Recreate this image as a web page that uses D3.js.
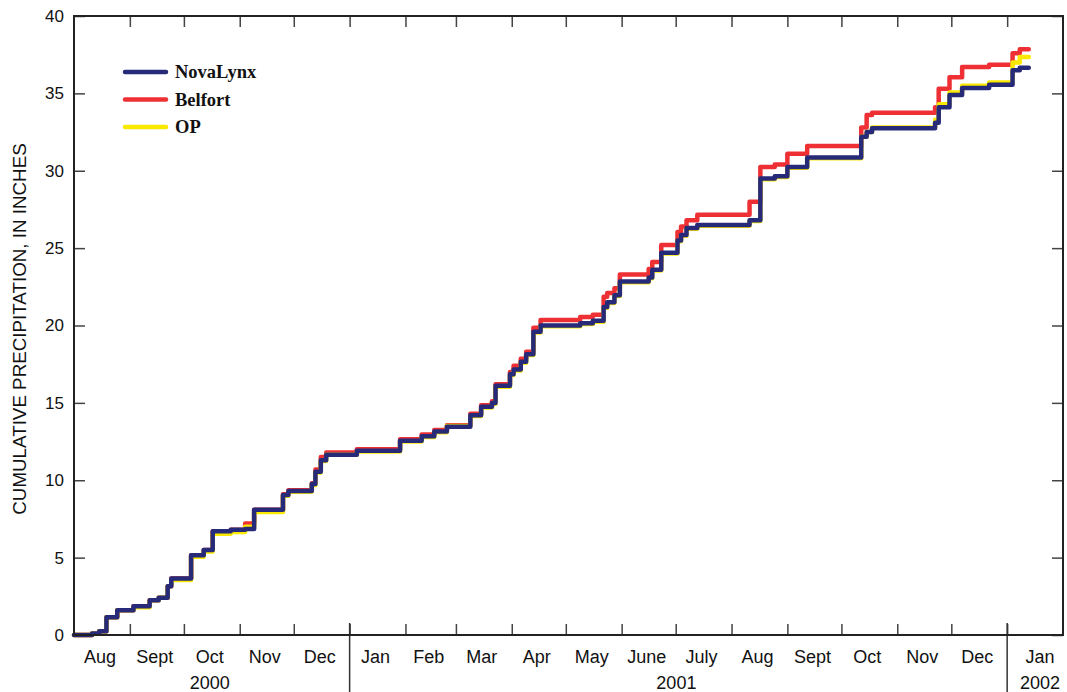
<!DOCTYPE html>
<html>
<head>
<meta charset="utf-8">
<script src="https://cdn.jsdelivr.net/npm/d3@7"></script>
<style>
  body { margin: 0; background: #fff; }
  svg { display: block; }
  .tick line { stroke: #444; stroke-width: 1.5; }
</style>
</head>
<body>
<svg id="chart" width="1067" height="692"></svg>
<script>
// step dates (start of each accumulation step)
const stepDates = [
  "2000-08-01", "2000-08-11", "2000-08-15", "2000-08-19", "2000-08-25",
  "2000-09-03", "2000-09-12", "2000-09-17", "2000-09-22", "2000-09-24",
  "2000-10-05", "2000-10-12", "2000-10-17", "2000-10-27", "2000-11-04",
  "2000-11-09", "2000-11-25", "2000-11-28", "2000-12-11", "2000-12-13",
  "2000-12-16", "2000-12-19", "2001-01-05", "2001-01-29", "2001-02-10",
  "2001-02-17", "2001-02-24", "2001-03-09", "2001-03-15", "2001-03-21",
  "2001-03-23", "2001-03-31", "2001-04-02", "2001-04-06", "2001-04-09",
  "2001-04-13", "2001-04-17", "2001-05-09", "2001-05-16", "2001-05-22",
  "2001-05-24", "2001-05-28", "2001-05-31", "2001-06-16", "2001-06-18",
  "2001-06-23", "2001-07-02", "2001-07-04", "2001-07-07", "2001-07-13",
  "2001-08-11", "2001-08-17", "2001-08-25", "2001-09-01", "2001-09-12",
  "2001-10-12", "2001-10-15", "2001-10-18", "2001-11-22", "2001-11-24",
  "2001-11-30", "2001-12-07", "2001-12-22", "2002-01-04", "2002-01-08",
  "2002-01-13"
];

const novaLynx = [
  0, 0.1, 0.25, 1.15, 1.6,
  1.85, 2.25, 2.4, 3.15, 3.65,
  5.15, 5.5, 6.7, 6.8, 6.85,
  8.1, 9.05, 9.3, 9.75, 10.55,
  11.3, 11.65, 11.9, 12.55, 12.85,
  13.15, 13.45, 14.2, 14.75, 15.0,
  16.1, 16.85, 17.15, 17.65, 18.15,
  19.6, 20.0, 20.15, 20.3, 21.2,
  21.5, 21.95, 22.85, 23.1, 23.6,
  24.7, 25.5, 25.85, 26.3, 26.5,
  26.8, 29.5, 29.65, 30.25, 30.85,
  32.2, 32.5, 32.75, 33.1, 34.1,
  34.9, 35.35, 35.55, 36.5, 36.65,
  36.65
];

const belfort = [
  0, 0.1, 0.25, 1.15, 1.6,
  1.85, 2.25, 2.4, 3.15, 3.65,
  5.15, 5.5, 6.7, 6.8, 7.2,
  8.1, 9.1, 9.35, 9.8, 10.7,
  11.5, 11.8, 12.0, 12.65, 12.95,
  13.25, 13.55, 14.3, 14.85, 15.1,
  16.2, 17.0, 17.4, 17.85, 18.3,
  19.85, 20.35, 20.55, 20.7, 21.85,
  22.1, 22.4, 23.3, 23.65, 24.1,
  25.2, 26.05, 26.4, 26.8, 27.15,
  28.0, 30.25, 30.4, 31.1, 31.6,
  32.8, 33.6, 33.75, 34.1, 35.3,
  36.05, 36.7, 36.85, 37.6, 37.85,
  37.85
];

const op = [
  0, 0.1, 0.25, 1.15, 1.6,
  1.8, 2.25, 2.4, 3.15, 3.55,
  5.05, 5.4, 6.55, 6.65, 7.0,
  7.95, 9.0, 9.25, 9.7, 10.5,
  11.25, 11.65, 11.85, 12.5, 12.8,
  13.1, 13.5, 14.15, 14.7, 14.95,
  16.05, 16.8, 17.1, 17.6, 18.1,
  19.55, 19.95, 20.1, 20.25, 21.15,
  21.45, 21.9, 22.8, 23.05, 23.55,
  24.65, 25.45, 25.8, 26.25, 26.45,
  26.75, 29.45, 29.6, 30.2, 30.8,
  32.2, 32.5, 32.8, 33.3, 34.3,
  35.05, 35.5, 35.7, 37.0, 37.35,
  37.35
];

const series = [
  { name: "Belfort", values: belfort, color: "#ee3035" },
  { name: "OP", values: op, color: "#fbe800" },
  { name: "NovaLynx", values: novaLynx, color: "#262a78" }
];
const legendOrder = ["NovaLynx", "Belfort", "OP"];

const monthNames = ["Jan", "Feb", "Mar", "Apr", "May", "June",
                    "July", "Aug", "Sept", "Oct", "Nov", "Dec"];
const yearLabels = ["2000", "2001", "2002"];
const yTicks = [0, 5, 10, 15, 20, 25, 30, 35, 40];

const margin = { left: 74, right: 1063, top: 16, bottom: 635 };
const parse = d3.utcParse("%Y-%m-%d");

const x = d3.scaleUtc()
  .domain([parse("2000-08-01"), parse("2002-02-01")])
  .range([margin.left, margin.right]);
const y = d3.scaleLinear()
  .domain([0, 40])
  .range([margin.bottom, margin.top]);

const svg = d3.select("#chart");

// inside month ticks
const months = d3.utcMonth.range(parse("2000-09-01"), parse("2002-02-01"));

svg.append("g")
  .attr("transform", "translate(0," + margin.bottom + ")")
  .call(d3.axisBottom(x).tickValues(months).tickSize(-11).tickFormat(""))
  .call(g => g.select(".domain").remove());

svg.append("g")
  .attr("transform", "translate(0," + margin.top + ")")
  .call(d3.axisTop(x).tickValues(months).tickSize(-11).tickFormat(""))
  .call(g => g.select(".domain").remove());

svg.append("g")
  .attr("transform", "translate(" + margin.left + ",0)")
  .call(d3.axisLeft(y).tickValues(yTicks).tickSize(-11).tickPadding(10))
  .call(g => g.select(".domain").remove())
  .selectAll("text")
  .attr("font-family", "Liberation Sans, Arial, sans-serif")
  .attr("font-size", "17px")
  .attr("fill", "#111");

svg.append("g")
  .attr("transform", "translate(" + margin.right + ",0)")
  .call(d3.axisRight(y).tickValues(yTicks).tickSize(-11).tickFormat(""))
  .call(g => g.select(".domain").remove());

// month labels, centred in each month
const allMonths = d3.utcMonth.range(parse("2000-08-01"), parse("2002-02-01"));
svg.append("g")
  .selectAll("text")
  .data(allMonths)
  .join("text")
  .attr("x", d => (x(d) + x(d3.utcMonth.offset(d, 1))) / 2 + (d.getUTCFullYear() === 2002 ? 5 : -2))
  .attr("y", 663)
  .attr("text-anchor", "middle")
  .attr("font-family", "Liberation Sans, Arial, sans-serif")
  .attr("font-size", "18px")
  .attr("fill", "#111")
  .text(d => monthNames[d.getUTCMonth()]);

// year dividers and labels
const yearBounds = [parse("2000-08-01"), parse("2001-01-01"), parse("2002-01-01"), parse("2002-02-01")];
svg.append("g")
  .selectAll("line")
  .data(yearBounds.slice(1, 3))
  .join("line")
  .attr("x1", d => x(d)).attr("x2", d => x(d))
  .attr("y1", margin.bottom - 12).attr("y2", 692)
  .attr("stroke", "#333")
  .attr("stroke-width", 1.5);

svg.append("g")
  .selectAll("text")
  .data(yearLabels)
  .join("text")
  .attr("x", (d, i) => (x(yearBounds[i]) + x(yearBounds[i + 1])) / 2 + (i === 2 ? 5 : -2))
  .attr("y", 689)
  .attr("text-anchor", "middle")
  .attr("font-family", "Liberation Sans, Arial, sans-serif")
  .attr("font-size", "18px")
  .attr("fill", "#111")
  .text(d => d);

// y title
svg.append("text")
  .attr("transform", "translate(26,329) rotate(-90)")
  .attr("text-anchor", "middle")
  .attr("font-family", "Liberation Sans, Arial, sans-serif")
  .attr("font-size", "18.8px")
  .attr("fill", "#111")
  .text("CUMULATIVE PRECIPITATION, IN INCHES");

// lines
const line = d3.line()
  .x(d => x(d[0]))
  .y(d => y(d[1]))
  .curve(d3.curveStepAfter);

svg.append("g")
  .selectAll("path")
  .data(series)
  .join("path")
  .attr("d", s => line(stepDates.map((d, i) => [parse(d), s.values[i]])))
  .attr("fill", "none")
  .attr("stroke", s => s.color)
  .attr("stroke-width", 4.5)
  .attr("stroke-linejoin", "round")
  .attr("stroke-linecap", "round");

// frame
svg.append("rect")
  .attr("x", margin.left).attr("y", margin.top)
  .attr("width", margin.right - margin.left)
  .attr("height", margin.bottom - margin.top)
  .attr("fill", "none")
  .attr("stroke", "#222")
  .attr("stroke-width", 2);

// legend
const legend = svg.append("g");
legendOrder.forEach((name, i) => {
  const s = series.find(d => d.name === name);
  const ly = 72 + i * 27.5;
  legend.append("line")
    .attr("x1", 125).attr("x2", 166)
    .attr("y1", ly).attr("y2", ly)
    .attr("stroke", s.color)
    .attr("stroke-width", 4.5)
    .attr("stroke-linecap", "round");
  legend.append("text")
    .attr("x", 175).attr("y", ly + 6)
    .attr("font-family", "Liberation Serif, Times New Roman, serif")
    .attr("font-weight", "bold")
    .attr("font-size", "18.5px")
    .attr("fill", "#111")
    .text(name);
});
</script>
</body>
</html>
